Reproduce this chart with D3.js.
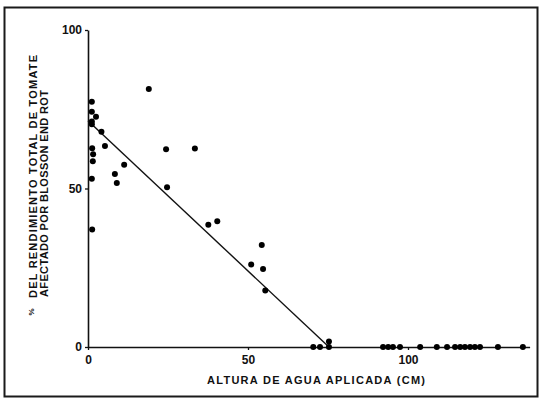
<!DOCTYPE html>
<html>
<head>
<meta charset="utf-8">
<script src="https://cdn.jsdelivr.net/npm/d3@7/dist/d3.min.js"></script>
<style>
  html, body { margin: 0; padding: 0; background: #fff; }
  svg { display: block; }
  text { font-family: "Liberation Sans", Arial, sans-serif; fill: #111; }
</style>
</head>
<body>
<svg id="chart" width="541" height="399"></svg>
<script>
// Applied water depth (cm) and % of total tomato yield affected by blossom end rot
const waterCm = [1.2, 1.2, 2.5, 1.2, 1.2, 4.2, 5.3, 1.3, 1.6, 1.5, 1.2, 1.3,
  8.4, 9.0, 11.3, 19.0, 24.4, 33.4, 24.7, 37.6, 40.4, 54.3, 51.0, 54.7, 55.4,
  70.4, 72.5, 75.3, 75.3,
  92.2, 93.8, 95.3, 97.5, 103.8, 109.0, 112.2, 114.7, 116.3, 117.8, 119.4,
  120.9, 122.5, 128.1, 135.9];
const damagePct = [77.4, 74.2, 72.6, 71.1, 70.3, 67.9, 63.4, 62.7, 60.8, 58.6, 53.1, 37.1,
  54.6, 51.7, 57.5, 81.4, 62.4, 62.6, 50.4, 38.6, 39.7, 32.2, 26.0, 24.6, 17.8,
  0, 0, 1.7, 0,
  0, 0, 0, 0, 0, 0, 0, 0, 0, 0, 0,
  0, 0, 0, 0];

// Fitted linear trend (end points)
const fitX = [0, 75.3];
const fitY = [71.4, 0];

const xTicks = [0, 50, 100];
const yTicks = [0, 50, 100];

const svg = d3.select("#chart");

// Page frame
svg.append("rect")
  .attr("x", 4.5).attr("y", 7.5)
  .attr("width", 533).attr("height", 389)
  .attr("fill", "none").attr("stroke", "#1a1a1a").attr("stroke-width", 2);

const x = d3.scaleLinear().domain([0, 138]).range([88, 529.6]);
const y = d3.scaleLinear().domain([0, 100]).range([347, 30]);

const xAxis = svg.append("g")
  .attr("transform", `translate(0,${y(0)})`)
  .call(d3.axisBottom(x).tickValues(xTicks).tickSize(3).tickSizeOuter(0).tickPadding(5));
const yAxis = svg.append("g")
  .attr("transform", `translate(${x(0)},0)`)
  .call(d3.axisLeft(y).tickValues(yTicks).tickSize(3).tickSizeOuter(0).tickPadding(3));

[xAxis, yAxis].forEach(g => {
  g.select(".domain").attr("stroke", "#111").attr("stroke-width", 1.6);
  g.selectAll(".tick line").attr("stroke", "#111").attr("stroke-width", 1.3);
  g.selectAll(".tick text")
    .attr("font-size", 12).attr("font-weight", "bold")
    .attr("font-family", "Liberation Sans, Arial, sans-serif").attr("fill", "#111");
});

// Trend line
svg.append("path")
  .datum(fitX.map((d, i) => [d, fitY[i]]))
  .attr("fill", "none").attr("stroke", "#111").attr("stroke-width", 1.4)
  .attr("d", d3.line().x(d => x(d[0])).y(d => y(d[1])));

// Observations
svg.append("g").selectAll("circle")
  .data(waterCm.map((d, i) => [d, damagePct[i]]))
  .join("circle")
  .attr("cx", d => x(d[0])).attr("cy", d => y(d[1]))
  .attr("r", 3).attr("fill", "#000");

// Axis titles
const title = (sel, size) => sel
  .attr("text-anchor", "middle")
  .attr("font-size", size)
  .attr("font-weight", "bold")
  .attr("lengthAdjust", "spacing");

title(svg.append("text"), 11)
  .attr("x", (207 + 425) / 2).attr("y", 384)
  .attr("textLength", 218)
  .text("ALTURA DE AGUA APLICADA (CM)");

title(svg.append("text"), 11)
  .attr("transform", "translate(37,176.5) rotate(-90)")
  .attr("textLength", 243)
  .text("DEL RENDIMIENTO TOTAL DE TOMATE");

title(svg.append("text"), 8)
  .attr("transform", "translate(34,312) rotate(-90)")
  .text("%");

title(svg.append("text"), 11)
  .attr("transform", "translate(48,193.5) rotate(-90)")
  .attr("textLength", 207)
  .text("AFECTADO POR BLOSSON END ROT");
</script>
</body>
</html>
